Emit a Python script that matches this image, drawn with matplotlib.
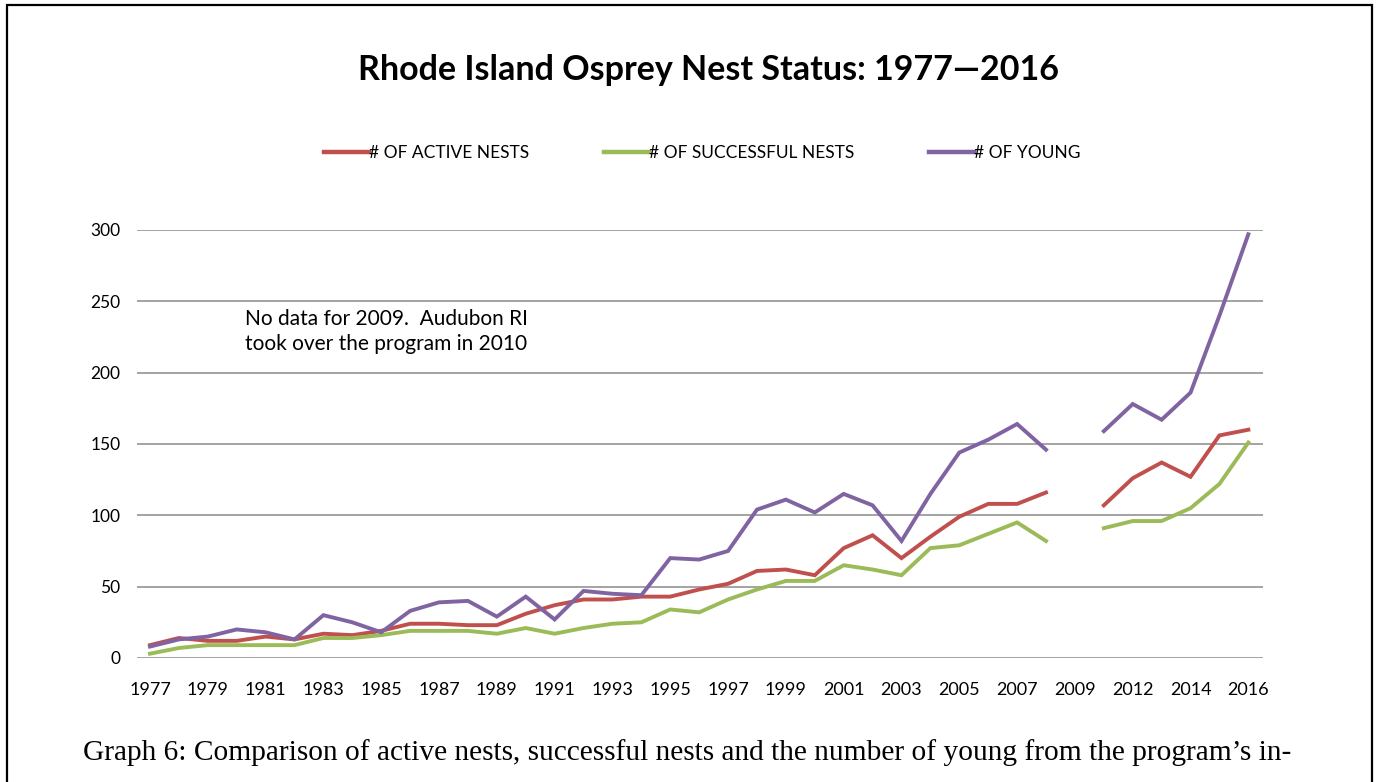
import numpy as np
import matplotlib
matplotlib.use('Agg')
import matplotlib.pyplot as plt
from matplotlib.patches import Rectangle

# categories on the x axis (2009 has no data, 2011 not in the sheet)
years = [str(y) for y in range(1977, 2010)] + ["2010", "2012", "2013", "2014", "2015", "2016"]

active = [9, 14, 12, 12, 15, 13, 17, 16, 19, 24, 24, 23, 23, 31,
          37, 41, 41, 43, 43, 48, 52, 61, 62, 58, 77, 86, 70, 85,
          99, 108, 108, 116, None, 107, 126, 137, 127, 156, 160]
successful = [3, 7, 9, 9, 9, 9, 14, 14, 16, 19, 19, 19, 17, 21,
              17, 21, 24, 25, 34, 32, 41, 48, 54, 54, 65, 62, 58, 77,
              79, 87, 95, 82, None, 91, 96, 96, 105, 122, 151]
young = [8, 13, 15, 20, 18, 13, 30, 25, 18, 33, 39, 40, 29, 43,
         27, 47, 45, 44, 70, 69, 75, 104, 111, 102, 115, 107, 82, 115,
         144, 153, 164, 146, None, 159, 178, 167, 186, 240, 297]

series_names = ["# OF ACTIVE NESTS", "# OF SUCCESSFUL NESTS", "# OF YOUNG"]
series_colors = ["#C0504D", "#9BBB59", "#8064A2"]

def to_arr(vals):
    return np.array([np.nan if v is None else v for v in vals], dtype=float)

fig = plt.figure(figsize=(13.78, 7.82), dpi=100)
ax = fig.add_axes([0.0994, 0.1586, 0.817, 0.5473])

x = np.arange(len(years))
for vals, name, col in zip([active, successful, young], series_names, series_colors):
    ax.plot(x, to_arr(vals), color=col, lw=2.8, label=name, solid_joinstyle='miter')

ax.set_xlim(-0.45, len(years) - 0.5)
ax.set_ylim(0, 300)
ax.set_yticks(range(0, 301, 50))
ax.yaxis.grid(True, color='#8a8a8a', lw=1.1)
ax.set_axisbelow(True)
for s in ax.spines.values():
    s.set_visible(False)
ax.tick_params(length=0, labelsize=12.5)
ax.tick_params(axis='y', pad=12)
ax.tick_params(axis='x', pad=17)
ax.set_xticks(x[::2])
ax.set_xticklabels(years[::2], fontfamily='Lato', fontsize=13)
for lab in ax.get_yticklabels():
    lab.set_fontfamily('Lato')

leg = ax.legend(loc='center', bbox_to_anchor=(0.502, 1.18), ncol=3, frameon=False,
                prop={'family': 'Lato', 'size': 12.5}, handlelength=2.6,
                handletextpad=0.0, columnspacing=4.3)
for h in leg.get_lines():
    h.set_linewidth(3.2)

ax.text(0.096, 0.815, "No data for 2009.  Audubon RI\ntook over the program in 2010",
        transform=ax.transAxes, fontsize=15, fontfamily='Lato', va='top',
        linespacing=1.3)

fig.text(0.514, 0.91, "Rhode Island Osprey Nest Status: 1977\u20142016",
         ha='center', va='center', fontsize=24.5, fontweight='bold', fontfamily='Lato')

fig.text(0.06, 0.038, "Graph 6: Comparison of active nests, successful nests and the number of young from the program\u2019s in-",
         ha='left', va='center', fontsize=21.2, fontfamily='Liberation Serif')

fig.patches.append(Rectangle((7 / 1378, -0.02), 1365 / 1378, 0.9936 + 0.02,
                             transform=fig.transFigure, fill=False,
                             edgecolor='black', lw=1.6))

fig.savefig('out.png', dpi=100)
